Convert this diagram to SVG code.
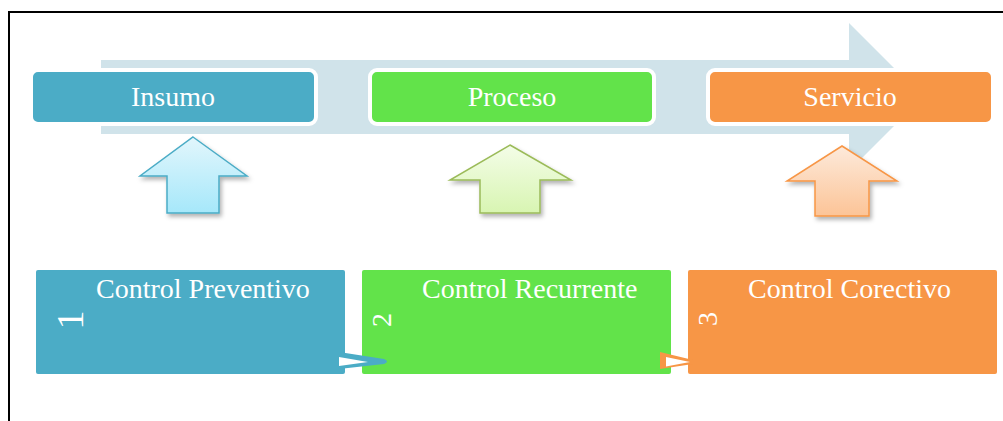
<svg xmlns="http://www.w3.org/2000/svg" width="1003" height="421" viewBox="0 0 1003 421">
<style>
.t{font-family:"Liberation Serif","Times New Roman",serif;fill:#fff;font-size:28px}
.top{stroke:#fff;stroke-width:4}
</style>
<defs>
<linearGradient id="gb" x1="0" y1="0" x2="0" y2="1"><stop offset="0" stop-color="#e2f6fc"/><stop offset="1" stop-color="#a6e8fa"/></linearGradient>
<linearGradient id="gg" x1="0" y1="0" x2="0" y2="1"><stop offset="0" stop-color="#f4fde8"/><stop offset="1" stop-color="#d8f5b2"/></linearGradient>
<linearGradient id="go" x1="0" y1="0" x2="0" y2="1"><stop offset="0" stop-color="#fdeadb"/><stop offset="1" stop-color="#fcc497"/></linearGradient>
<filter id="sh" x="-20%" y="-20%" width="150%" height="150%"><feDropShadow dx="2" dy="3" stdDeviation="2" flood-color="#000" flood-opacity="0.3"/></filter>
</defs>
<rect width="1003" height="421" fill="#fff"/>
<path d="M9,421 V12 H1003" fill="none" stroke="#000" stroke-width="2"/>
<g id="flow">
<polygon points="101,60 849,60 849,23 923,97 849,171 849,134 101,134" fill="#d0e3ea"/>
</g>
<g id="insumo"><rect class="top" x="31" y="70" width="285" height="54" rx="7" fill="#4bacc6"/><text class="t" x="173" y="106" text-anchor="middle">Insumo</text></g>
<g id="proceso"><rect class="top" x="370" y="70" width="284" height="54" rx="7" fill="#62e34a"/><text class="t" x="512" y="106" text-anchor="middle">Proceso</text></g>
<g id="servicio"><rect class="top" x="708" y="70" width="285" height="54" rx="7" fill="#f79646"/><text class="t" x="850" y="106" text-anchor="middle">Servicio</text></g>
<g id="arrow-insumo"><polygon filter="url(#sh)" points="193,137 247,176 219,176 219,213 167,213 167,176 140,176" fill="url(#gb)" stroke="#4bacc6" stroke-width="1.5"/></g>
<g id="arrow-proceso"><polygon filter="url(#sh)" points="510,145 571,180 540,180 540,213 480,213 480,180 450,180" fill="url(#gg)" stroke="#9bbb59" stroke-width="1.5"/></g>
<g id="arrow-servicio"><polygon filter="url(#sh)" points="842,146 897,181 869,181 869,216 815,216 815,181 787,181" fill="url(#go)" stroke="#f79646" stroke-width="1.5"/></g>
<g id="preventivo"><rect x="36" y="270" width="309" height="104" rx="2" fill="#4bacc6"/><text class="t" x="96" y="298">Control Preventivo</text><text class="t" style="font-size:38px" x="83" y="320" text-anchor="middle" transform="rotate(-90 83 320)">1</text></g>
<g id="recurrente"><rect x="362" y="270" width="309" height="104" rx="2" fill="#62e34a"/><text class="t" x="422" y="298">Control Recurrente</text><text class="t" x="391" y="320" text-anchor="middle" transform="rotate(-90 391 320)">2</text></g>
<g id="corectivo"><rect x="688" y="270" width="309" height="104" rx="2" fill="#f79646"/><text class="t" x="748" y="298">Control Corectivo</text><text class="t" x="717" y="319" text-anchor="middle" transform="rotate(-90 717 319)">3</text></g>
<g id="connectors">
<path d="M339,352 L384,359 Q390,361.5 384,364 L339,369 Z" fill="#4bacc6"/>
<polygon points="339,357 368,362 339,366" fill="#fff"/>
<path d="M660,352 L693,360 L693,364 L660,369 Z" fill="#f79646"/>
<polygon points="666,357 690,362 666,366.5" fill="#fff"/>
</g>
</svg>
